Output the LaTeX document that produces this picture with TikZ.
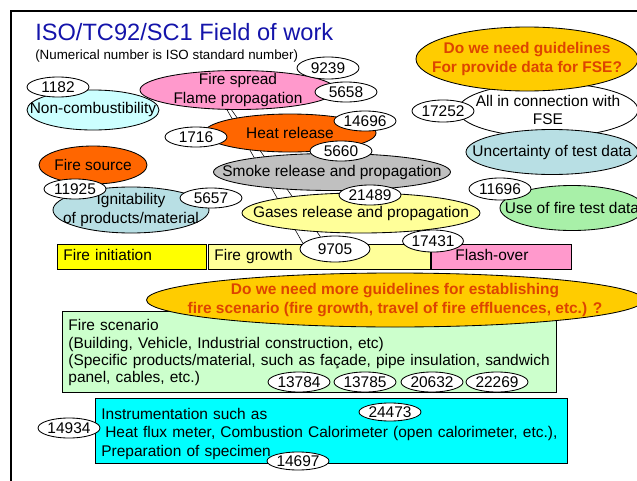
\documentclass[tikz,border=0pt]{standalone}
\usepackage{fontspec}
\setmainfont{Liberation Sans}
\usepackage{xcolor}
\usepackage{tikz}
\usetikzlibrary{shapes,backgrounds}

\definecolor{titleblue}{RGB}{20,20,170}
\definecolor{noncomb}{HTML}{CCFFFF}
\definecolor{spread}{HTML}{FF99CC}
\definecolor{heat}{HTML}{FF6600}
\definecolor{smoke}{HTML}{C0C0C0}
\definecolor{gases}{HTML}{FFFF99}
\definecolor{init}{HTML}{FFFF00}
\definecolor{ignit}{HTML}{B8DFE4}
\definecolor{usedata}{HTML}{A8F0A8}
\definecolor{gold}{HTML}{FFCC00}
\definecolor{askred}{HTML}{DD4400}
\definecolor{scen}{HTML}{CCFFCC}
\definecolor{instr}{HTML}{00FFFF}

\newcommand{\cz}[1]{\makebox[0pt]{#1}}

\tikzset{
	num/.style={ellipse,draw,fill=white,line width=0.6pt,inner sep=0pt,minimum width=15.5mm,minimum height=5mm},
	topic/.style 2 args={ellipse,draw,line width=0.6pt,inner xsep=0pt,inner ysep=-1mm,align=center,minimum width=#1,minimum height=#2},
	ask/.style 2 args={topic={#1}{#2},fill=gold,text=askred,font=\fontsize{11}{13}\selectfont\bfseries},
	bar/.style={rectangle,draw,line width=0.6pt,anchor=west,align=left,minimum height=6.25mm,inner xsep=1.5mm,inner ysep=0pt,text height=0.75em,text depth=0.2em},
	panel/.style={rectangle,draw,line width=0.6pt,anchor=north west,align=left,inner xsep=1.5mm,inner ysep=1mm}
}

\begin{document}
\begin{tikzpicture}[x=0.25mm,y=-0.25mm,font=\fontsize{11}{13}\selectfont]
		\useasboundingbox (0,0) rectangle (637,481);
		\clip (0,0) rectangle (637,481);
		\draw[line width=1.4pt] (11,490) -- (11,11) -- (650,11);
		\node[anchor=base west,inner sep=0pt,text=titleblue,font=\fontsize{16.8}{20}\selectfont] (title) at (35,40) {ISO/TC92/SC1 Field of work};
		\node[anchor=base west,inner sep=0pt,font=\fontsize{9.5}{11}\selectfont] (subtitle) at (35,59) {(Numerical number is ISO standard number)};
		%
		\node[topic={33mm}{10mm},fill=noncomb] (noncomb) at (93,110) {\cz{Non-combustibility}};
		\node[num] (n1182) at (58,87) {1182};
		\node[topic={49mm}{9.75mm},fill=spread] (spread) at (238,90) {\cz{Fire spread}\\\cz{Flame propagation}};
		\node[num,minimum height=5.5mm] (n9239) at (328,68) {9239};
		\node[num] (n5658) at (346,92) {5658};
		\node[topic={43mm}{9.5mm},fill=heat] (heat) at (290,133) {\cz{Heat release}};
		\node[num] (n1716) at (196,137) {1716};
		\node[num] (n14696) at (365,121) {14696};
		\node[topic={59.25mm}{9.25mm},fill=smoke] (smoke) at (332,172) {\cz{Smoke release and propagation}};
		\node[num] (n5660) at (341,151) {5660};
		\node[topic={59.5mm}{10mm},fill=gases] (gases) at (361,213) {\cz{Gases release and propagation}};
		\node[num] (n21489) at (370,195) {21489};
		%
		\node[topic={27mm}{9.5mm},fill=heat] (source) at (93,165) {\cz{Fire source}};
		\node[topic={39mm}{11.5mm},fill=ignit] (ignit) at (131,210) {\cz{Ignitability}\\\cz{of products/material}};
		\node[num] (n11925) at (75,189) {11925};
		\node[num] (n5657) at (211,198) {5657};
		%
		\node[topic={45mm}{13.5mm},fill=white] (fse) at (548,110) {\cz{All in connection with}\\\cz{FSE}};
		\node[ask={55.5mm}{16mm}] (guideA) at (527,59) {\cz{Do we need guidelines}\\\cz{For provide data for FSE?}};
		\node[topic={43mm}{11.25mm},fill=ignit] (uncert) at (552,152) {\cz{Uncertainty of test data}};
		\node[num,minimum height=5.5mm] (n17252) at (443,111) {17252};
		\node[topic={36mm}{11.25mm},fill=usedata] (usedata) at (572,208) {\cz{Use of fire test data}};
		\node[num,minimum height=5.5mm] (n11696) at (500,189) {11696};
		%
		\node[bar,fill=init,text width=34.25mm] (init) at (57,256.5) {Fire initiation};
		\node[bar,fill=gases,text width=52.5mm] (growth) at (208,256.5) {Fire growth};
		\node[bar,fill=spread,text width=23mm,inner xsep=6mm] (flash) at (431,256.5) {Flash-over};
		\node[num,minimum width=17.5mm,minimum height=6.5mm] (n9705) at (335,249) {9705};
		\node[num,minimum width=14.5mm,minimum height=5.5mm] (n17431) at (433,241) {17431};
		%
		\node[panel,fill=scen,text width=120.5mm,minimum height=20.25mm,text height=0.9em,font=\fontsize{11}{12.3}\selectfont] (scen) at (62,311) {Fire scenario\\(Building, Vehicle, Industrial construction, etc)\\(Specific products/material, such as façade, pipe insulation, sandwich\\panel, cables, etc.)};
		\node[ask={124.25mm}{13.5mm}] (guideB) at (395,300) {\cz{Do we need more guidelines for establishing}\\\cz{fire scenario (fire growth, travel of fire effluences, etc.) ?}};
		\node[num] (n13784) at (299,382) {13784};
		\node[num] (n13785) at (365,382) {13785};
		\node[num] (n20632) at (432,382) {20632};
		\node[num] (n22269) at (497,382) {22269};
		%
		\node[panel,fill=instr,text width=115mm,minimum height=15.5mm,text height=1.2em,font=\fontsize{11}{13.1}\selectfont] (instr) at (95,398) {Instrumentation such as\\\hspace*{.25em}Heat flux meter, Combustion Calorimeter (open calorimeter, etc.),\\Preparation of specimen};
		\node[num,minimum height=4.5mm] (n24473) at (390,412) {24473};
		\node[num] (n14934) at (69,428) {14934};
		\node[num,minimum height=4.5mm] (n14697) at (298,461) {14697};
		%
		\begin{scope}[on background layer]
		\draw[line width=0.4pt] (spread.241) -- (n9705.170);
		\draw[line width=0.4pt] (spread.252) -- (n9705.140);
		\end{scope}
\end{tikzpicture}
\end{document}
